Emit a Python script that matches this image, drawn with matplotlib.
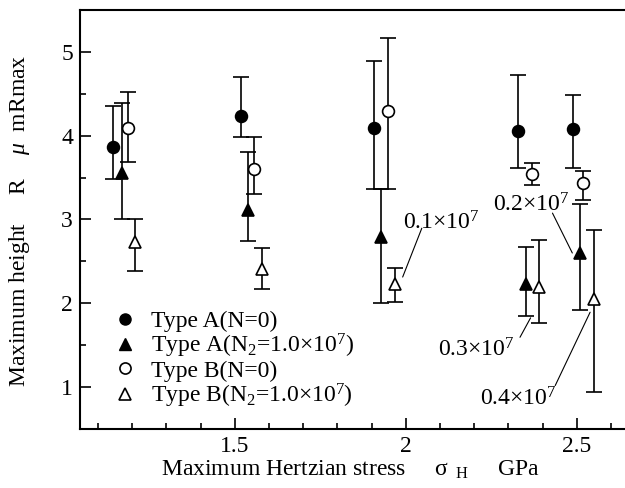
import matplotlib
matplotlib.use("Agg")
import matplotlib.pyplot as plt
from matplotlib.lines import Line2D
from matplotlib.ticker import MultipleLocator, FixedLocator
import numpy as np

plt.rcParams["font.family"] = ["Liberation Serif", "DejaVu Serif"]
plt.rcParams["mathtext.fontset"] = "custom"
plt.rcParams["mathtext.rm"] = "Liberation Serif"
plt.rcParams["mathtext.it"] = "Liberation Serif:italic"

FS = 17

# ── Data (stress GPa, Rmax um, upper / lower bounds of error bars) ──────────
a0_x = [1.145, 1.518, 1.907, 2.329, 2.490]
a0_y = [3.87, 4.24, 4.09, 4.06, 4.08]
a0_hi = [4.35, 4.70, 4.89, 4.72, 4.48]
a0_lo = [3.48, 3.99, 3.36, 3.61, 3.61]

a2_x = [1.170, 1.538, 1.928, 2.351, 2.508]
a2_y = [3.55, 3.11, 2.79, 2.23, 2.60]
a2_hi = [4.39, 3.81, 3.36, 2.67, 3.18]
a2_lo = [3.01, 2.74, 2.00, 1.85, 1.92]

b0_x = [1.187, 1.556, 1.947, 2.370, 2.519]
b0_y = [4.09, 3.60, 4.30, 3.54, 3.44]
b0_hi = [4.52, 3.99, 5.16, 3.67, 3.58]
b0_lo = [3.69, 3.30, 3.36, 3.41, 3.23]

b2_x = [1.208, 1.581, 1.969, 2.391, 2.549]
b2_y = [2.73, 2.41, 2.23, 2.19, 2.05]
b2_hi = [3.01, 2.66, 2.42, 2.76, 2.87]
b2_lo = [2.39, 2.17, 2.02, 1.77, 0.94]

labels = ["Type A(N=0)",
          "Type A(N$_2$=1.0$\\times$10$^7$)",
          "Type B(N=0)",
          "Type B(N$_2$=1.0$\\times$10$^7$)"]

# cycle annotations: text, text position, leader line start, leader line end
notes = ["0.1$\\times$10$^7$", "0.2$\\times$10$^7$",
         "0.3$\\times$10$^7$", "0.4$\\times$10$^7$"]
note_xy = [(1.992, 2.956), (2.254, 3.171), (2.095, 1.447), (2.217, 0.860)]
lead_from = [(2.047, 2.896), (2.429, 3.076), (2.334, 1.594), (2.437, 1.018)]
lead_to = [(1.991, 2.313), (2.487, 2.600), (2.365, 1.826), (2.539, 1.893)]

# ── Figure ───────────────────────────────────────────────────────────────────
fig = plt.figure(figsize=(6.25, 4.88), dpi=100)
ax = fig.add_axes([0.128, 0.121, 0.872, 0.8585])

series = [
    (a0_x, a0_y, a0_hi, a0_lo, "o", "black"),
    (a2_x, a2_y, a2_hi, a2_lo, "^", "black"),
    (b0_x, b0_y, b0_hi, b0_lo, "o", "white"),
    (b2_x, b2_y, b2_hi, b2_lo, "^", "white"),
]
for xs, ys, hi, lo, mk, fc in series:
    ys = np.array(ys)
    err = [ys - np.array(lo), np.array(hi) - ys]
    ax.errorbar(xs, ys, yerr=err, fmt=mk, ms=8.5, mfc=fc, mec="black",
                mew=1.2, ecolor="black", elinewidth=1.2, capsize=6,
                capthick=1.2, zorder=3)

for t, pos, p0, p1 in zip(notes, note_xy, lead_from, lead_to):
    ax.text(pos[0], pos[1], t, fontsize=FS, va="center", ha="left")
    ax.annotate("", xy=p1, xytext=p0,
                arrowprops=dict(arrowstyle="-", color="black", lw=0.8,
                                shrinkA=0, shrinkB=0))

handles = [Line2D([], [], ls="none", marker="o", ms=8, mfc="black", mec="black"),
           Line2D([], [], ls="none", marker="^", ms=8, mfc="black", mec="black"),
           Line2D([], [], ls="none", marker="o", ms=8, mfc="white", mec="black", mew=1.2),
           Line2D([], [], ls="none", marker="^", ms=8, mfc="white", mec="black", mew=1.2)]
ax.legend(handles, labels, loc="upper left", bbox_to_anchor=(0.061, 0.283),
          frameon=False, fontsize=FS, handlelength=1.0, handletextpad=0.6,
          labelspacing=0.0, borderpad=0, borderaxespad=0)

ax.set_xlim(1.0477, 2.641)
ax.set_ylim(0.5, 5.5)
ax.xaxis.set_major_locator(FixedLocator([1.5, 2.0, 2.5]))
ax.set_xticklabels(["1.5", "2", "2.5"])
ax.xaxis.set_minor_locator(MultipleLocator(0.1))
ax.yaxis.set_major_locator(MultipleLocator(1))
ax.yaxis.set_minor_locator(MultipleLocator(0.5))
ax.tick_params(which="both", direction="in", labelsize=FS, width=1.2,
               top=False, right=False)
ax.tick_params(which="major", length=8, pad=5)
ax.tick_params(which="minor", length=4.5)
for s in ["left", "bottom", "top"]:
    ax.spines[s].set_linewidth(1.5)
ax.spines["right"].set_visible(False)

fig.text(0.561, 0.038,
         "Maximum Hertzian stress     \u03c3$_{\\ \\ \\mathrm{H}}$     GPa",
         fontsize=FS, ha="center", va="center")
fig.text(0.032, 0.547, "Maximum height     R    $\\mu$  mRmax",
         fontsize=FS, ha="center", va="center", rotation=90)

fig.savefig("out.png", dpi=100)
